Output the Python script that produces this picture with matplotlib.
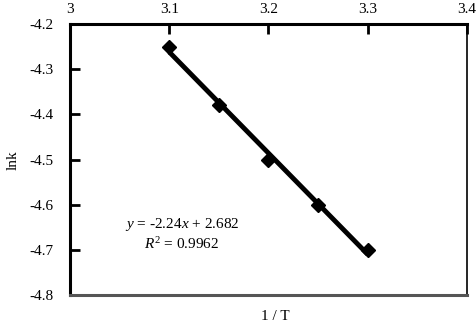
import numpy as np
import matplotlib
matplotlib.use("Agg")
import matplotlib.pyplot as plt

plt.rcParams['font.family'] = ['Liberation Serif', 'DejaVu Serif']
plt.rcParams['mathtext.fontset'] = 'custom'
plt.rcParams['mathtext.rm'] = 'Liberation Serif'
plt.rcParams['mathtext.it'] = 'Liberation Serif:italic'

# data
inv_t = [3.10, 3.15, 3.20, 3.25, 3.30]
ln_k = [-4.25, -4.38, -4.50, -4.60, -4.70]
x_ticks = [3.0, 3.1, 3.2, 3.3, 3.4]
y_ticks = [-4.8, -4.7, -4.6, -4.5, -4.4, -4.3, -4.2]
x_tick_labels = ["3", "3.1", "3.2", "3.3", "3.4"]
y_tick_labels = ["-4.8", "-4.7", "-4.6", "-4.5", "-4.4", "-4.3", "-4.2"]
eq_text = "$y$ = -2.24$x$ + 2.682\n$R^2$ = 0.9962"

fig = plt.figure(figsize=(4.77, 3.24), dpi=100)
ax = fig.add_axes([70 / 477, 1 - 295 / 324, 397 / 477, 271 / 324])

# trend line from linear fit
slope, icpt = np.polyfit(inv_t, ln_k, 1)
xs = np.array([inv_t[0], inv_t[-1]])
ax.plot(xs, slope * xs + icpt, color="black", lw=3.5, solid_capstyle="butt", zorder=2)
ax.plot(inv_t, ln_k, linestyle="none", marker="D", ms=7, color="black", zorder=3)

ax.set_xlim(3.0, 3.4)
ax.set_ylim(-4.8, -4.2)
ax.xaxis.tick_top()
ax.set_xticks(x_ticks)
ax.set_xticklabels(x_tick_labels)
ax.set_yticks(y_ticks)
ax.set_yticklabels(y_tick_labels)
ax.tick_params(axis="x", direction="in", length=7, width=2, labelsize=11, pad=6)
ax.tick_params(axis="y", direction="in", length=7, width=2, labelsize=11, pad=12)

ax.spines["left"].set_linewidth(2.2)
ax.spines["top"].set_linewidth(2.2)
ax.spines["right"].set_linewidth(1.2)
ax.spines["bottom"].set_linewidth(2.2)
ax.spines["bottom"].set_color("#555555")

ax.text(3.113, -4.665, eq_text, ha="center", va="center", fontsize=11, linespacing=1.25)

fig.text(275 / 477, 1 - 316 / 324, "1 / T", ha="center", va="center", fontsize=11)
fig.text(13 / 477, 1 - 160 / 324, "lnk", ha="center", va="center", rotation=90, fontsize=11)

fig.savefig("out.png", dpi=100)
